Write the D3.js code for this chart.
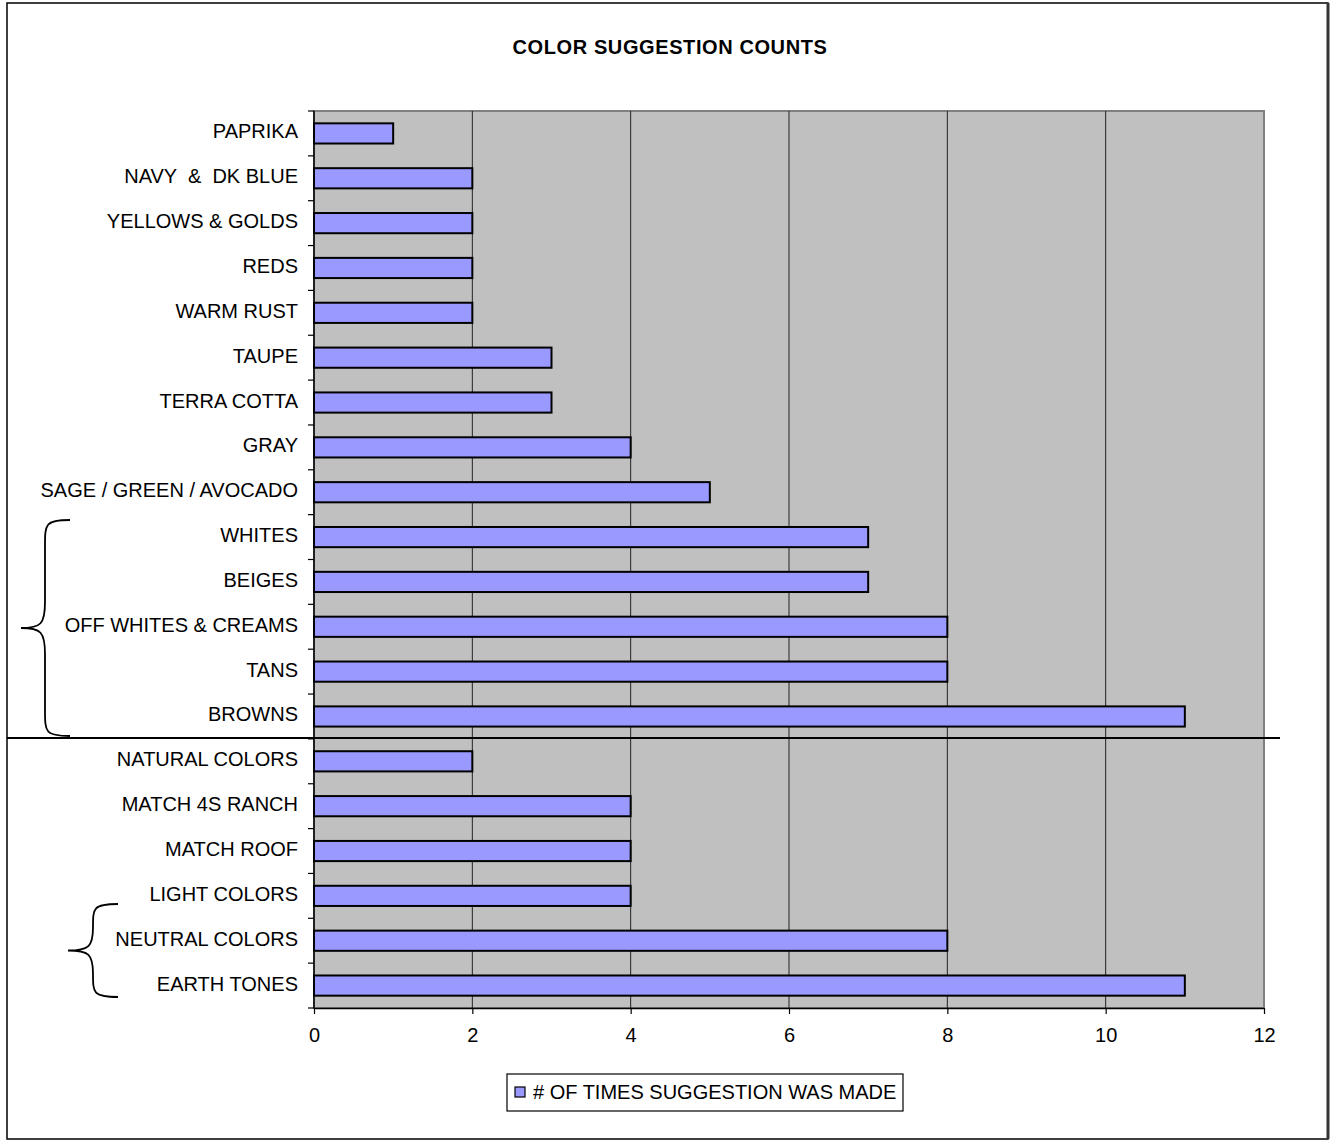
<!DOCTYPE html>
<html>
<head>
<meta charset="utf-8">
<script src="https://cdn.jsdelivr.net/npm/d3@7"></script>
<style>
  body { margin: 0; background: #fff; }
  text { font-family: "Liberation Sans", Arial, sans-serif; }
</style>
</head>
<body>
<div id="chart"></div>
<script>
// categories, top to bottom
const categories = [
  "PAPRIKA", "NAVY  &  DK BLUE", "YELLOWS & GOLDS", "REDS", "WARM RUST",
  "TAUPE", "TERRA COTTA", "GRAY", "SAGE / GREEN / AVOCADO", "WHITES",
  "BEIGES", "OFF WHITES & CREAMS", "TANS", "BROWNS", "NATURAL COLORS",
  "MATCH 4S RANCH", "MATCH ROOF", "LIGHT COLORS", "NEUTRAL COLORS", "EARTH TONES"
];
const counts = [1, 2, 2, 2, 2, 3, 3, 4, 5, 7, 7, 8, 8, 11, 2, 4, 4, 4, 8, 11];
const xTicks = [0, 2, 4, 6, 8, 10, 12];
const seriesName = "# OF TIMES SUGGESTION WAS MADE";

const width = 1330;
const height = 1140;
const margin = { top: 111, right: 66, bottom: 132, left: 314 };
const fontSize = 20;

const svg = d3.select("#chart")
  .append("svg")
  .attr("width", width)
  .attr("height", height);

// outer frame
svg.append("rect")
  .attr("x", 7).attr("y", 3)
  .attr("width", 1321).attr("height", 1136)
  .attr("fill", "#fff")
  .attr("stroke", "#000")
  .attr("stroke-width", 1.5);
svg.append("line")
  .attr("x1", 1328).attr("x2", 1328).attr("y1", 3).attr("y2", 1139)
  .attr("stroke", "#333").attr("stroke-width", 3);

const x = d3.scaleLinear()
  .domain([0, 12])
  .range([margin.left, width - margin.right]);

const y = d3.scaleBand()
  .domain(categories)
  .range([margin.top, height - margin.bottom]);

// plot background
svg.append("rect")
  .attr("x", x(0)).attr("y", margin.top)
  .attr("width", x(12) - x(0))
  .attr("height", height - margin.bottom - margin.top)
  .attr("fill", "#c0c0c0")
  .attr("stroke", "#808080")
  .attr("stroke-width", 2);

// vertical gridlines
svg.selectAll(".grid")
  .data(xTicks.filter(d => d > 0 && d < 12))
  .enter()
  .append("line")
  .attr("x1", d => x(d)).attr("x2", d => x(d))
  .attr("y1", margin.top).attr("y2", height - margin.bottom)
  .attr("stroke", "#222")
  .attr("stroke-width", 1);

// bars
const barH = y.bandwidth() * 0.45;
svg.selectAll(".bar")
  .data(categories)
  .enter()
  .append("rect")
  .attr("x", x(0))
  .attr("y", d => y(d) + (y.bandwidth() - barH) / 2)
  .attr("width", (d, i) => x(counts[i]) - x(0))
  .attr("height", barH)
  .attr("fill", "#9999ff")
  .attr("stroke", "#000")
  .attr("stroke-width", 2);

// y axis with ticks at band edges
const yAxis = svg.append("g");
yAxis.append("line")
  .attr("x1", x(0)).attr("x2", x(0))
  .attr("y1", margin.top).attr("y2", height - margin.bottom)
  .attr("stroke", "#000").attr("stroke-width", 1.5);
const edges = categories.map(d => y(d)).concat([height - margin.bottom]);
yAxis.selectAll(".ytick")
  .data(edges)
  .enter()
  .append("line")
  .attr("x1", x(0) - 6).attr("x2", x(0))
  .attr("y1", d => d).attr("y2", d => d)
  .attr("stroke", "#000").attr("stroke-width", 1.2);
yAxis.selectAll(".ylabel")
  .data(categories)
  .enter()
  .append("text")
  .attr("x", 298)
  .attr("y", d => y(d) + y.bandwidth() / 2 - 2)
  .attr("dy", "0.35em")
  .attr("text-anchor", "end")
  .attr("font-size", fontSize)
  .attr("fill", "#000")
  .style("white-space", "pre")
  .text(d => d);

// x axis
const xAxis = svg.append("g")
  .attr("transform", `translate(0,${height - margin.bottom})`)
  .call(d3.axisBottom(x).tickValues(xTicks).tickSize(6).tickSizeOuter(0).tickPadding(14));
xAxis.select(".domain").attr("stroke", "#000").attr("stroke-width", 1.5);
xAxis.selectAll(".tick line").attr("stroke", "#000").attr("stroke-width", 1.2);
xAxis.selectAll(".tick text")
  .attr("font-size", fontSize)
  .attr("font-family", "'Liberation Sans', Arial, sans-serif")
  .attr("fill", "#000");

// divider between the two groups
const divY = y("NATURAL COLORS") - 1;
svg.append("line")
  .attr("x1", 7).attr("x2", 1280)
  .attr("y1", divY).attr("y2", divY)
  .attr("stroke", "#000").attr("stroke-width", 2);

// curly braces
function brace(xEnd, xMid, xTip, y0, y1) {
  const ym = (y0 + y1) / 2;
  const r = Math.min(26, (y1 - y0) / 4);
  return `M${xEnd},${y0} C${xMid},${y0} ${xMid},${y0 + 4} ${xMid},${y0 + r}`
    + ` L${xMid},${ym - r} C${xMid},${ym - 4} ${xMid - 4},${ym} ${xTip},${ym}`
    + ` C${xMid - 4},${ym} ${xMid},${ym + 4} ${xMid},${ym + r}`
    + ` L${xMid},${y1 - r} C${xMid},${y1 - 4} ${xMid},${y1} ${xEnd},${y1}`;
}
svg.append("path")
  .attr("d", brace(70, 45, 21, 520, 736))
  .attr("fill", "none").attr("stroke", "#000").attr("stroke-width", 1.8);
svg.append("path")
  .attr("d", brace(118, 93, 68, 904, 997))
  .attr("fill", "none").attr("stroke", "#000").attr("stroke-width", 1.8);

// title
svg.append("text")
  .attr("x", 670).attr("y", 54)
  .attr("text-anchor", "middle")
  .attr("font-size", 20)
  .attr("font-weight", "bold")
  .attr("letter-spacing", 0.6)
  .text("COLOR SUGGESTION COUNTS");

// legend
const legend = svg.append("g");
legend.append("rect")
  .attr("x", 507).attr("y", 1074)
  .attr("width", 396).attr("height", 37)
  .attr("fill", "#fff").attr("stroke", "#000").attr("stroke-width", 1.2);
legend.append("rect")
  .attr("x", 515).attr("y", 1087)
  .attr("width", 10).attr("height", 10)
  .attr("fill", "#9999ff").attr("stroke", "#000").attr("stroke-width", 1.2);
legend.append("text")
  .attr("x", 533).attr("y", 1092)
  .attr("dy", "0.35em")
  .attr("font-size", fontSize)
  .text(seriesName);
</script>
</body>
</html>
